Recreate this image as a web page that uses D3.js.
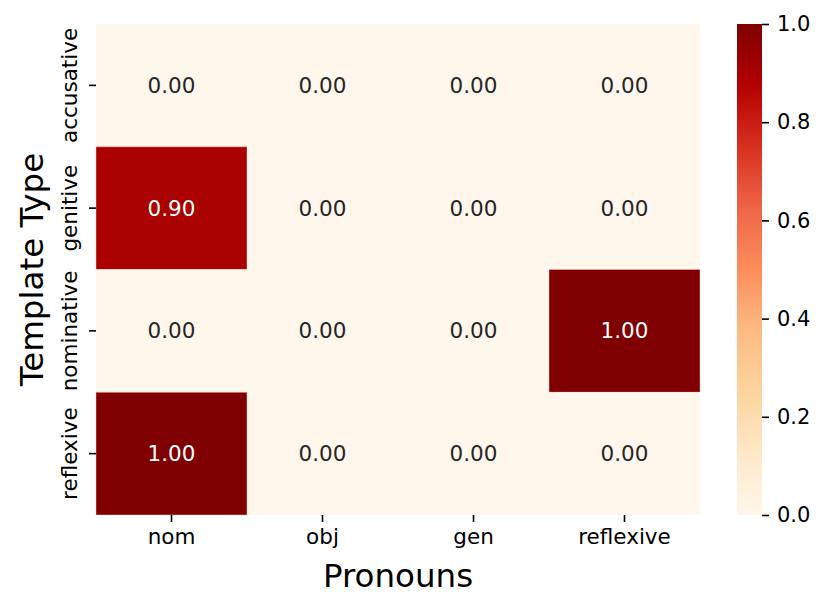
<!DOCTYPE html>
<html>
<head>
<meta charset="utf-8">
<script src="https://cdn.jsdelivr.net/npm/d3@7"></script>
<style>
  body { margin: 0; background: #fff; }
  svg text { font-family: "DejaVu Sans", sans-serif; fill: #000; }
</style>
</head>
<body>
<script>
//Chart data
var templateTypes = ["accusative", "genitive", "nominative", "reflexive"];
var pronouns = ["nom", "obj", "gen", "reflexive"];
var scores = [
    [0.00, 0.00, 0.00, 0.00],
    [0.90, 0.00, 0.00, 0.00],
    [0.00, 0.00, 0.00, 1.00],
    [1.00, 0.00, 0.00, 0.00]
];
var cbarTicks = [0.0, 0.2, 0.4, 0.6, 0.8, 1.0];

//OrRd colormap (matplotlib style, linear between brewer colors)
var orrd = ["#fff7ec","#fee8c8","#fdd49e","#fdbb84","#fc8d59","#ef6548","#d7301f","#b30000","#7f0000"];
var colorScale = d3.scaleLinear()
    .domain(orrd.map(function(d, i){ return i / (orrd.length - 1); }))
    .range(orrd)
    .clamp(true);

//Frame dimensions
var width = 830, height = 611;
var plotLeft = 96, plotTop = 24, plotRight = 700, plotBottom = 515;
var tickFont = "21.5px", titleFont = "32.5px";

var svg = d3.select("body")
    .append("svg")
    .attr("width", width)
    .attr("height", height);

var x = d3.scaleBand().domain(pronouns).range([plotLeft, plotRight]);
var y = d3.scaleBand().domain(templateTypes).range([plotTop, plotBottom]);

//Flatten cells
var cells = [];
scores.forEach(function(row, i){
    row.forEach(function(v, j){
        cells.push({ row: templateTypes[i], col: pronouns[j], value: v });
    });
});

svg.selectAll(".cell")
    .data(cells)
    .enter()
    .append("rect")
    .attr("class", "cell")
    .attr("x", function(d){ return x(d.col); })
    .attr("y", function(d){ return y(d.row); })
    .attr("width", x.bandwidth())
    .attr("height", y.bandwidth())
    .style("fill", function(d){ return colorScale(d.value); })
    .style("stroke", function(d){ return d.value > 0.5 ? "rgba(255,200,200,0.45)" : "none"; })
    .style("stroke-width", 1);

//Annotations
svg.selectAll(".annot")
    .data(cells)
    .enter()
    .append("text")
    .attr("class", "annot")
    .attr("x", function(d){ return x(d.col) + x.bandwidth() / 2; })
    .attr("y", function(d){ return y(d.row) + y.bandwidth() / 2; })
    .attr("text-anchor", "middle")
    .attr("dominant-baseline", "central")
    .style("font-size", tickFont)
    .style("fill", function(d){ return d.value > 0.5 ? "#ffffff" : "#262626"; })
    .text(function(d){ return d.value.toFixed(2); });

//X axis
var xAxis = svg.append("g")
    .attr("transform", "translate(0," + plotBottom + ")")
    .call(d3.axisBottom(x).tickSize(7).tickPadding(6));
xAxis.select(".domain").remove();
xAxis.selectAll("line").style("stroke", "#000").style("stroke-width", 1.6);
xAxis.selectAll("text").style("font-size", tickFont).attr("dy", "0.75em").attr("y", 13);

//Y axis with rotated labels
var yAxis = svg.append("g")
    .attr("transform", "translate(" + plotLeft + ",0)")
    .call(d3.axisLeft(y).tickSize(7));
yAxis.select(".domain").remove();
yAxis.selectAll("line").style("stroke", "#000").style("stroke-width", 1.6);
yAxis.selectAll("text")
    .style("font-size", tickFont)
    .attr("x", 0).attr("dy", 0)
    .attr("text-anchor", "middle")
    .attr("transform", "translate(-19,0) rotate(-90)");

//Axis titles
svg.append("text")
    .attr("x", (plotLeft + plotRight) / 2)
    .attr("y", 587)
    .attr("text-anchor", "middle")
    .style("font-size", titleFont)
    .text("Pronouns");

svg.append("text")
    .attr("transform", "translate(43," + (plotTop + plotBottom) / 2 + ") rotate(-90)")
    .attr("text-anchor", "middle")
    .style("font-size", titleFont)
    .text("Template Type");

//Colorbar
var cbX = 737, cbW = 25;
var cbScale = d3.scaleLinear().domain([0, 1]).range([plotBottom, plotTop]);

var grad = svg.append("defs").append("linearGradient")
    .attr("id", "cbgrad")
    .attr("x1", 0).attr("y1", 1).attr("x2", 0).attr("y2", 0);
grad.selectAll("stop")
    .data(d3.range(0, 1.0001, 0.02))
    .enter()
    .append("stop")
    .attr("offset", function(d){ return d; })
    .attr("stop-color", function(d){ return colorScale(d); });

svg.append("rect")
    .attr("x", cbX)
    .attr("y", plotTop)
    .attr("width", cbW)
    .attr("height", plotBottom - plotTop)
    .style("fill", "url(#cbgrad)");

var cbAxis = svg.append("g")
    .attr("transform", "translate(" + (cbX + cbW) + ",0)")
    .call(d3.axisRight(cbScale).tickValues(cbarTicks).tickFormat(d3.format(".1f")).tickSize(7).tickPadding(8));
cbAxis.select(".domain").remove();
cbAxis.selectAll("line").style("stroke", "#000").style("stroke-width", 1.6);
cbAxis.selectAll("text").style("font-size", "21px");
</script>
</body>
</html>
